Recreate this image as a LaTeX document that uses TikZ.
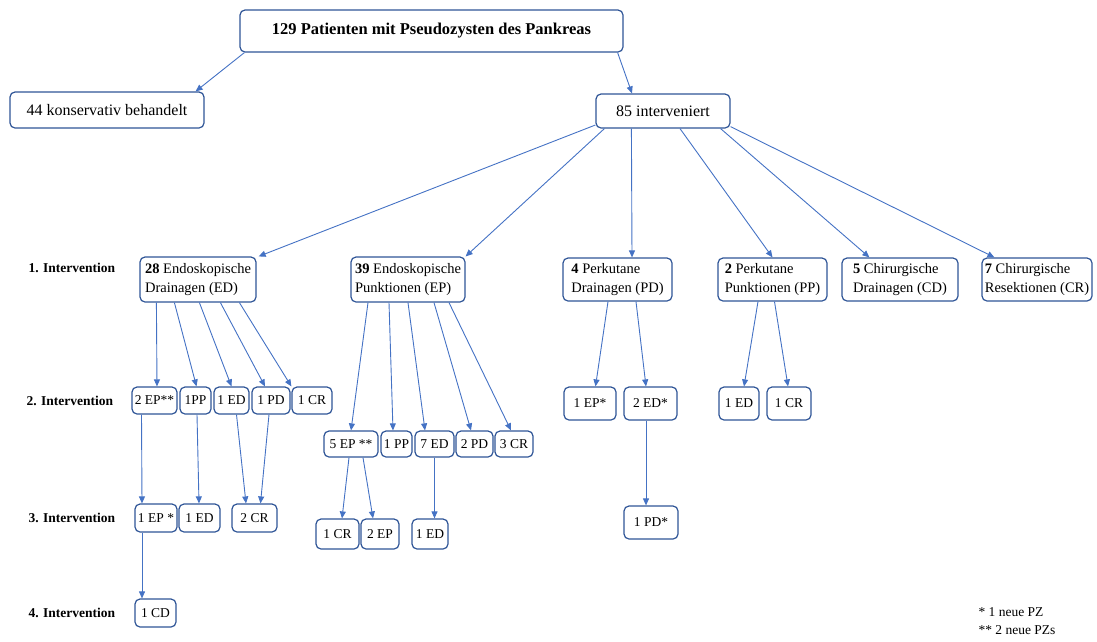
\documentclass[tikz,border=0pt]{standalone}
\usepackage{fontspec}
\setmainfont{Liberation Serif}
\usepackage{tikz}
\usetikzlibrary{arrows.meta}
\definecolor{boxblue}{HTML}{2F5597}
\definecolor{lineblue}{HTML}{4472C4}

\begin{document}
\begin{tikzpicture}[x=1pt,y=-1pt,
  pbox/.style={draw=boxblue,line width=1.2pt,rounded corners=5pt,fill=white,inner sep=1pt,font=\fontsize{13.5}{16}\selectfont},
  bigbox/.style={pbox,font=\fontsize{16}{19}\selectfont},
  grpbox/.style={pbox,align=left,font=\fontsize{14.5}{19}\selectfont},
  arr/.style={draw=lineblue,line width=0.9pt,-{Triangle[length=7pt,width=6pt]}},
  lvl/.style={anchor=west,font=\bfseries\fontsize{13.5}{16}\selectfont}]
  \useasboundingbox (0,0) rectangle (1097,641);

  % Gesamtkollektiv
  \node[bigbox,font=\bfseries\fontsize{16.5}{19}\selectfont,minimum width=383,minimum height=42] (top) at (431.5,31) {129 Patienten mit Pseudozysten des Pankreas};
  \node[bigbox,minimum width=194,minimum height=36] (cons) at (107,110) {44 konservativ behandelt};
  \node[bigbox,minimum width=134,minimum height=34] (interv) at (663,111) {85 interveniert};
  \draw[arr] ([xshift=5]top.south west) -- ([xshift=-9]cons.north east);
  \draw[arr] ([xshift=-6]top.south east) -- ([xshift=-31]interv.north);

  % Ebenen
  \node[lvl] (lvl1) at (25,268) {1. Intervention};
  \node[lvl] (lvl2) at (23,401) {2. Intervention};
  \node[lvl] (lvl3) at (25,518) {3. Intervention};
  \node[lvl] (lvl4) at (25,613) {4. Intervention};

  % 1. Intervention
  \node[grpbox,minimum width=116,minimum height=45] (ed1) at (198,279.5) {\textbf{28} Endoskopische\\Drainagen (ED)};
  \node[grpbox,minimum width=114,minimum height=45] (ep1) at (408,279.5) {\textbf{39} Endoskopische\\Punktionen (EP)};
  \node[grpbox,minimum width=109,minimum height=43] (pd1) at (617.5,279.5) {\textbf{4} Perkutane\\Drainagen (PD)};
  \node[grpbox,minimum width=109,minimum height=43] (pp1) at (772.5,279.5) {\textbf{2} Perkutane\\Punktionen (PP)};
  \node[grpbox,minimum width=116,minimum height=43] (cd1) at (900,279.5) {\textbf{5} Chirurgische\\Drainagen (CD)};
  \node[grpbox,minimum width=110,minimum height=43] (cr1) at (1037,279.5) {\textbf{7} Chirurgische\\Resektionen (CR)};
  \draw[arr] ([yshift=-14]interv.west) -- ([xshift=2]ed1.north east);
  \draw[arr] ([xshift=9]interv.south west) -- (ep1.north east);
  \draw[arr] ([xshift=36]interv.south west) -- ([xshift=14.5]pd1.north);
  \draw[arr] ([xshift=17]interv.south) -- (pp1.north);
  \draw[arr] ([xshift=-10]interv.south east) -- ([xshift=28]cd1.north west);
  \draw[arr] ([yshift=2]interv.south east) -- ([xshift=13]cr1.north west);

  % 2. Intervention nach ED
  \node[pbox,minimum width=45,minimum height=27] (a2ep) at (154.5,400.5) {2 EP**};
  \node[pbox,minimum width=31,minimum height=27] (a1pp) at (195.5,400.5) {1PP};
  \node[pbox,minimum width=35,minimum height=27] (a1ed) at (231.5,400.5) {1 ED};
  \node[pbox,minimum width=38,minimum height=27] (a1pd) at (271,400.5) {1 PD};
  \node[pbox,minimum width=40,minimum height=27] (a1cr) at (312,400.5) {1 CR};
  \draw[arr] ([xshift=17]ed1.south west) -- ([xshift=2.5]a2ep.north);
  \draw[arr] ([xshift=35]ed1.south west) -- ([xshift=1]a1pp.north);
  \draw[arr] ([xshift=60]ed1.south west) -- (a1ed.north);
  \draw[arr] ([xshift=81]ed1.south west) -- ([xshift=-6]a1pd.north);
  \draw[arr] ([xshift=100]ed1.south west) -- (a1cr.north west);

  % 2. Intervention nach EP
  \node[pbox,minimum width=54,minimum height=26] (b5ep) at (351,444) {5 EP **};
  \node[pbox,minimum width=31,minimum height=26] (b1pp) at (396.5,444) {1 PP};
  \node[pbox,minimum width=39,minimum height=26] (b7ed) at (434.5,444) {7 ED};
  \node[pbox,minimum width=37,minimum height=26] (b2pd) at (474.5,444) {2 PD};
  \node[pbox,minimum width=38,minimum height=26] (b3cr) at (514,444) {3 CR};
  \draw[arr] ([xshift=-40]ep1.south) -- (b5ep.north);
  \draw[arr] ([xshift=-19]ep1.south) -- ([xshift=-3.5]b1pp.north);
  \draw[arr] (ep1.south) -- ([xshift=-9.5]b7ed.north);
  \draw[arr] ([xshift=26]ep1.south) -- ([xshift=-3.5]b2pd.north);
  \draw[arr] ([xshift=41]ep1.south) -- ([xshift=-3]b3cr.north);

  % 2. Intervention nach PD und PP
  \node[pbox,minimum width=52,minimum height=33] (c1ep) at (590,403.5) {1 EP*};
  \node[pbox,minimum width=53,minimum height=33] (c2ed) at (650.5,403.5) {2 ED*};
  \node[pbox,minimum width=40,minimum height=33] (d1ed) at (739,403.5) {1 ED};
  \node[pbox,minimum width=44,minimum height=33] (d1cr) at (789,403.5) {1 CR};
  \draw[arr] ([xshift=-9.5]pd1.south) -- ([xshift=5.5]c1ep.north);
  \draw[arr] ([xshift=18.5]pd1.south) -- ([xshift=-4.5]c2ed.north);
  \draw[arr] ([xshift=-14.5]pp1.south) -- ([xshift=5]d1ed.north);
  \draw[arr] ([xshift=2]pp1.south) -- ([xshift=-1]d1cr.north);

  % 3. Intervention
  \node[pbox,minimum width=42,minimum height=28] (a1ep3) at (156,518) {1 EP *};
  \node[pbox,minimum width=41,minimum height=28] (a1ed3) at (199.5,518) {1 ED};
  \node[pbox,minimum width=45,minimum height=28] (a2cr3) at (254.5,518) {2 CR};
  \node[pbox,minimum width=43,minimum height=30] (b1cr3) at (337.5,534) {1 CR};
  \node[pbox,minimum width=38,minimum height=30] (b2ep3) at (380,534) {2 EP};
  \node[pbox,minimum width=36,minimum height=30] (b1ed3) at (430,534) {1 ED};
  \node[pbox,minimum width=54,minimum height=33] (c1pd3) at (651,522.5) {1 PD*};
  \draw[arr] ([xshift=-13]a2ep.south) -- ([xshift=-14]a1ep3.north);
  \draw[arr] ([xshift=1.5]a1pp.south) -- ([xshift=-0.5]a1ed3.north);
  \draw[arr] ([xshift=5]a1ed.south) -- ([xshift=-8.5]a2cr3.north);
  \draw[arr] ([xshift=-2]a1pd.south) -- ([xshift=6]a2cr3.north);
  \draw[arr] ([xshift=-2]b5ep.south) -- ([xshift=4.5]b1cr3.north);
  \draw[arr] ([xshift=12]b5ep.south) -- ([xshift=-7]b2ep3.north);
  \draw[arr] (b7ed.south) -- ([xshift=4.5]b1ed3.north);
  \draw[arr] ([xshift=-4.5]c2ed.south) -- ([xshift=-5]c1pd3.north);

  % 4. Intervention
  \node[pbox,minimum width=41,minimum height=28] (a1cd4) at (155.5,613) {1 CD};
  \draw[arr] ([xshift=-14]a1ep3.south) -- ([xshift=-13.5]a1cd4.north);

  % Legende
  \node[anchor=west,align=left,font=\fontsize{13.5}{18}\selectfont] (legend) at (975,621) {* 1 neue PZ\\** 2 neue PZs};
\end{tikzpicture}
\end{document}
